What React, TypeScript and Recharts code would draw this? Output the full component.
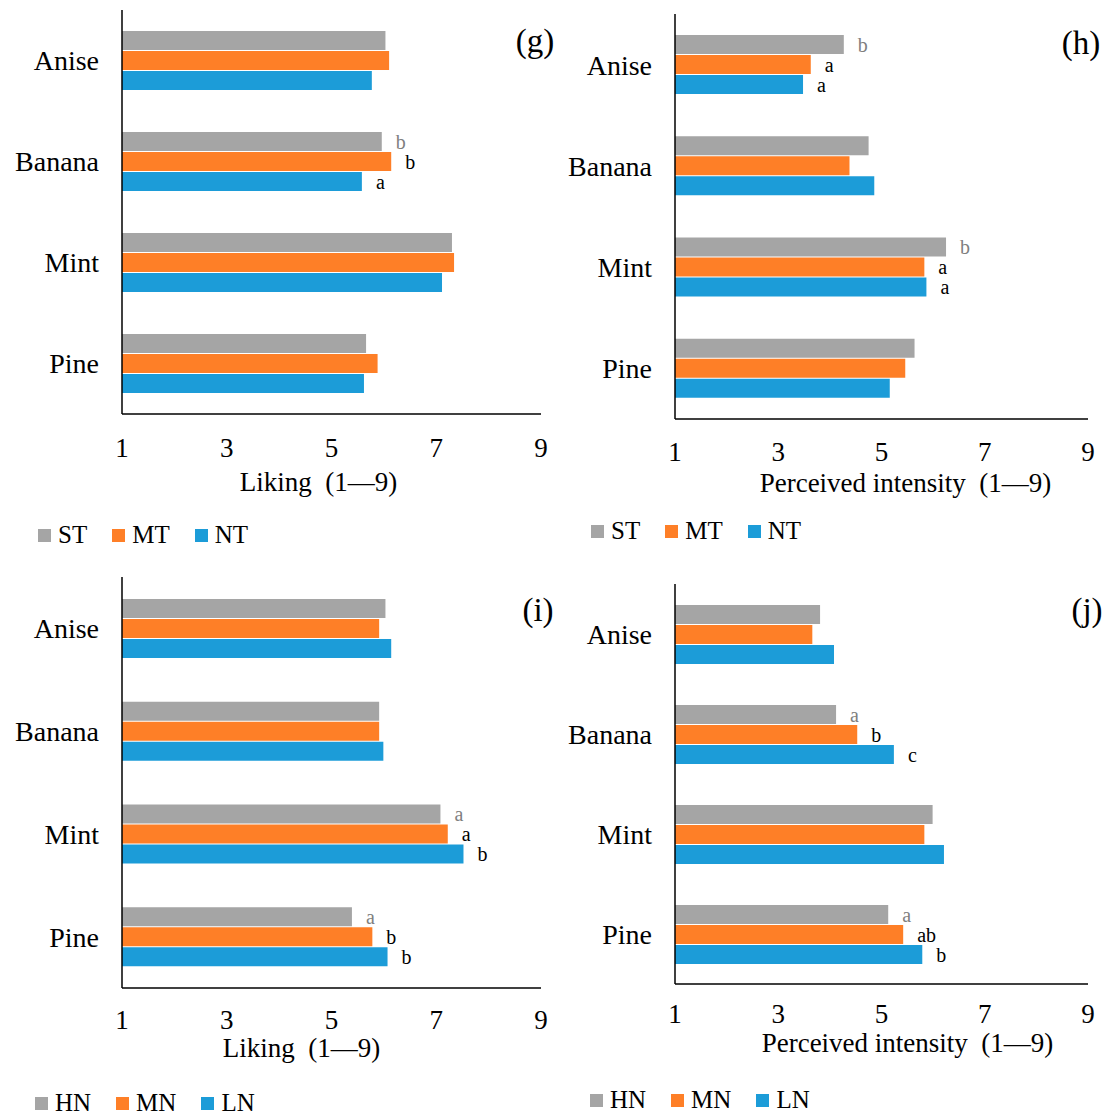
import React from "react";
import { BarChart, Bar, XAxis, YAxis, Legend, LabelList } from "recharts";

// flavour categories, top to bottom
const flavours = ["Anise", "Banana", "Mint", "Pine"];
const xTicks = [1, 3, 5, 7, 9];

// (g) liking by trigeminal group
const likingST = [6.03, 5.96, 7.3, 5.66];
const likingMT = [6.1, 6.14, 7.34, 5.88];
const likingNT = [5.77, 5.58, 7.11, 5.62];
const likingSTLetters = ["", "b", "", ""];
const likingMTLetters = ["", "b", "", ""];
const likingNTLetters = ["", "a", "", ""];

// (h) perceived intensity by trigeminal group
const intensityST = [4.27, 4.75, 6.25, 5.64];
const intensityMT = [3.63, 4.38, 5.83, 5.46];
const intensityNT = [3.48, 4.86, 5.87, 5.16];
const intensitySTLetters = ["b", "", "b", ""];
const intensityMTLetters = ["a", "", "a", ""];
const intensityNTLetters = ["a", "", "a", ""];

// (i) liking by nasal group
const likingHN = [6.03, 5.91, 7.08, 5.39];
const likingMN = [5.91, 5.91, 7.22, 5.78];
const likingLN = [6.14, 5.99, 7.52, 6.07];
const likingHNLetters = ["", "", "a", "a"];
const likingMNLetters = ["", "", "a", "b"];
const likingLNLetters = ["", "", "b", "b"];

// (j) perceived intensity by nasal group
const intensityHN = [3.81, 4.12, 5.99, 5.13];
const intensityMN = [3.66, 4.53, 5.83, 5.42];
const intensityLN = [4.08, 5.24, 6.21, 5.79];
const intensityHNLetters = ["", "a", "", "a"];
const intensityMNLetters = ["", "b", "", "ab"];
const intensityLNLetters = ["", "c", "", "b"];

const GRAY = "#A5A5A5";
const ORANGE = "#FE7F27";
const BLUE = "#1C9CD8";
const FONT = "'Liberation Serif', 'Times New Roman', serif";

const buildRows = (a: number[], b: number[], c: number[], la: string[], lb: string[], lc: string[]) =>
  flavours.map((name, i) => ({ name, s1: a[i], s2: b[i], s3: c[i], l1: la[i], l2: lb[i], l3: lc[i] }));

interface PanelProps {
  tag: string;
  names: string[];
  rows: ReturnType<typeof buildRows>;
  title: string;
  left: number;
  top: number;
  width: number;
  height: number;
  margin: { top: number; right: number; bottom: number; left: number };
  yWidth: number;
  xHeight: number;
  tickGap: number;
  titleDx: number;
  titleDy: number;
  legendPad: number;
  tagX: number;
  tagY: number;
}

// legend keeps the series order (gray, orange, blue) instead of sorting by name
const makeLegend = (pad: number, names: string[]) => (props: any) => {
  const payload: any[] = props.payload || [];
  const ordered = names.map((n) => payload.find((e) => e.value === n)).filter(Boolean);
  return (
    <div
      style={{
        display: "flex",
        alignItems: "center",
        height: 24,
        paddingLeft: pad,
        fontFamily: FONT,
        fontSize: 25,
        color: "#000",
      }}
    >
      {ordered.map((entry: any) => (
        <span key={entry.value} style={{ display: "flex", alignItems: "center", marginRight: 25 }}>
          <span style={{ width: 13, height: 13, background: entry.color, marginRight: 7 }} />
          {entry.value}
        </span>
      ))}
    </div>
  );
};

const Panel = (p: PanelProps) => {
  const colors = [GRAY, ORANGE, BLUE];
  const letterColors = ["#7F7F7F", "#000", "#000"];
  return (
    <div style={{ position: "absolute", left: p.left, top: p.top, width: p.width, height: p.height }}>
      <BarChart
        width={p.width}
        height={p.height}
        data={p.rows}
        layout="vertical"
        margin={p.margin}
        barSize={19}
        barGap={1}
      >
        <XAxis
          type="number"
          domain={[1, 9]}
          ticks={xTicks}
          height={p.xHeight}
          axisLine={{ stroke: "#000", strokeWidth: 1.5 }}
          tickLine={false}
          tickSize={0}
          tickMargin={p.tickGap}
          tick={{ fill: "#000", fontSize: 27, fontFamily: FONT }}
          label={{
            content: ({ viewBox }: any) => (
              <text
                x={viewBox.x + viewBox.width / 2 + p.titleDx}
                y={viewBox.y + p.titleDy}
                textAnchor="middle"
                fill="#000"
                fontSize={27}
                fontFamily={FONT}
              >
                {p.title}
              </text>
            ),
          }}
        />
        <YAxis
          type="category"
          dataKey="name"
          width={p.yWidth}
          axisLine={{ stroke: "#000", strokeWidth: 1.5 }}
          tickLine={false}
          tickSize={0}
          tickMargin={23}
          tick={{ fill: "#000", fontSize: 28, fontFamily: FONT }}
        />
        <Legend verticalAlign="bottom" align="left" content={makeLegend(p.legendPad, p.names)} />
        {["s1", "s2", "s3"].map((key, i) => (
          <Bar key={key} dataKey={key} name={p.names[i]} fill={colors[i]} isAnimationActive={false}>
            <LabelList
              dataKey={"l" + (i + 1)}
              position="right"
              offset={14}
              fill={letterColors[i]}
              fontSize={20}
              fontFamily={FONT}
            />
          </Bar>
        ))}
      </BarChart>
      <div
        style={{
          position: "absolute",
          left: p.tagX,
          top: p.tagY,
          transform: "translate(-50%, -50%)",
          fontFamily: FONT,
          fontSize: 33,
          lineHeight: 1,
          color: "#000",
        }}
      >
        {p.tag}
      </div>
    </div>
  );
};

const trigeminal = ["ST", "MT", "NT"];
const nasal = ["HN", "MN", "LN"];

export default function App() {
  return (
    <div style={{ position: "absolute", left: 0, top: 0, width: 1104, height: 1115, background: "#fff", overflow: "hidden" }}>
      <Panel
        tag="(g)"
        names={trigeminal}
        rows={buildRows(likingST, likingMT, likingNT, likingSTLetters, likingMTLetters, likingNTLetters)}
        title={"Liking\u2002(1\u20149)"}
        left={0}
        top={0}
        width={560}
        height={560}
        margin={{ top: 10, right: 19, bottom: 13, left: 0 }}
        yWidth={122}
        xHeight={109}
        tickGap={24}
        titleDx={-13}
        titleDy={77}
        legendPad={38}
        tagX={535}
        tagY={41}
      />
      <Panel
        tag="(h)"
        names={trigeminal}
        rows={buildRows(intensityST, intensityMT, intensityNT, intensitySTLetters, intensityMTLetters, intensityNTLetters)}
        title={"Perceived intensity\u2002(1\u20149)"}
        left={552}
        top={0}
        width={552}
        height={560}
        margin={{ top: 14, right: 16, bottom: 17, left: 0 }}
        yWidth={123}
        xHeight={100}
        tickGap={23}
        titleDx={24}
        titleDy={73}
        legendPad={39}
        tagX={529}
        tagY={43}
      />
      <Panel
        tag="(i)"
        names={nasal}
        rows={buildRows(likingHN, likingMN, likingLN, likingHNLetters, likingMNLetters, likingLNLetters)}
        title={"Liking\u2002(1\u20149)"}
        left={0}
        top={560}
        width={560}
        height={555}
        margin={{ top: 17, right: 19, bottom: 0, left: 0 }}
        yWidth={122}
        xHeight={103}
        tickGap={22}
        titleDx={-30}
        titleDy={69}
        legendPad={35}
        tagX={538}
        tagY={50}
      />
      <Panel
        tag="(j)"
        names={nasal}
        rows={buildRows(intensityHN, intensityMN, intensityLN, intensityHNLetters, intensityMNLetters, intensityLNLetters)}
        title={"Perceived intensity\u2002(1\u20149)"}
        left={552}
        top={560}
        width={552}
        height={555}
        margin={{ top: 24, right: 16, bottom: 3, left: 0 }}
        yWidth={123}
        xHeight={104}
        tickGap={20}
        titleDx={26}
        titleDy={68}
        legendPad={38}
        tagX={535}
        tagY={50}
      />
    </div>
  );
}
